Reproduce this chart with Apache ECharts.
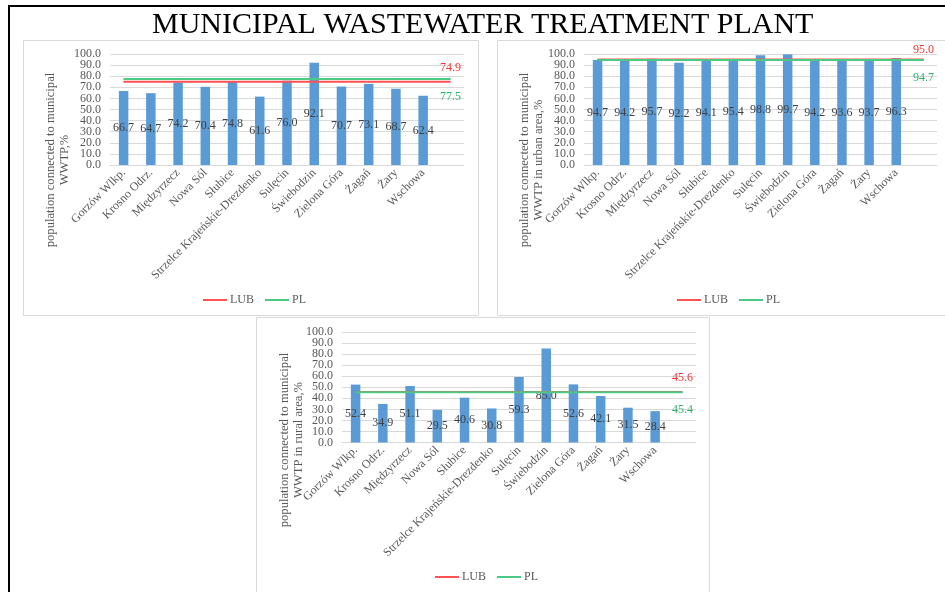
<!DOCTYPE html>
<html>
<head>
<meta charset="utf-8">
<script src="https://cdn.jsdelivr.net/npm/echarts@6/dist/echarts.min.js"></script>
<style>
  html, body { margin: 0; padding: 0; background: #fff; }
  #chart { width: 945px; height: 592px; }
</style>
</head>
<body>
<div id="chart"></div>
<script>
// towns (last slot empty, Excel-style, so the reference lines run past the last bar)
const towns = ['Gorzów Wlkp.', 'Krosno Odrz.', 'Międzyrzecz', 'Nowa Sól', 'Słubice',
  'Strzelce Krajeńskie-Drezdenko', 'Sulęcin', 'Świebodzin', 'Zielona Góra', 'Żagań', 'Żary', 'Wschowa', ''];

const totalVals = [66.7, 64.7, 74.2, 70.4, 74.8, 61.6, 76.0, 92.1, 70.7, 73.1, 68.7, 62.4];
const urbanVals = [94.7, 94.2, 95.7, 92.2, 94.1, 95.4, 98.8, 99.7, 94.2, 93.6, 93.7, 96.3];
const ruralVals = [52.4, 34.9, 51.1, 29.5, 40.6, 30.8, 59.3, 85.0, 52.6, 42.1, 31.5, 28.4];

// regional (LUB) and national (PL) averages
const lubVals = [74.9, 95.0, 45.6];
const plVals = [77.5, 94.7, 45.4];

const yTicks = [0, 100, 10]; // min, max, step
const yNames = [
  'population connected to municipal\nWWTP,%',
  'population connected to municipal\nWWTP in urban area,%',
  'population connected to municipal\nWWTP in rural area,%'
];

const serif = '"Liberation Serif", "Times New Roman", serif';
const red = '#ff5252';
const green = '#4cc982';
const grey = '#595959';

const chart = echarts.init(document.getElementById('chart'));

const grids = [
  { left: 110, top: 54, width: 354, height: 111 },
  { left: 584, top: 54, width: 353, height: 111 },
  { left: 342, top: 332, width: 354, height: 110.5 }
];
const legendPos = [
  { left: 203, top: 294 },
  { left: 677, top: 294 },
  { left: 435, top: 571 }
];
const yNamePos = [[58, 160], [532, 160], [292, 440]];
const barSets = [totalVals, urbanVals, ruralVals];

// line across all categories at the average, with its value shown at the end
function avgLine(v, pos, dist) {
  return towns.map((t, i) => i === towns.length - 1
    ? { value: v, label: { show: true, position: pos, distance: dist } }
    : v);
}

const isEnd = v => v === yTicks[0] || v === yTicks[1];
const yLabel = { margin: 9, fontFamily: serif, fontSize: 12, color: grey, hideOverlap: false };

const xAxis = [], yAxis = [], series = [], legend = [], graphic = [];
grids.forEach((g, k) => {
  xAxis.push({
    type: 'category', gridIndex: k, data: towns,
    axisTick: { show: false },
    axisLine: { lineStyle: { color: '#d9d9d9' } },
    axisLabel: { rotate: 45, interval: 0, margin: 6, fontFamily: serif, fontSize: 12, color: grey }
  });
  // inner tick labels; echarts drops the neighbours of min/max when ticks are this dense,
  // so the two end labels go on a twin axis below
  yAxis.push({
    type: 'value', gridIndex: k, position: 'left',
    min: yTicks[0], max: yTicks[1], interval: yTicks[2],
    axisLine: { show: false }, axisTick: { show: false },
    splitLine: { lineStyle: { color: '#d9d9d9' } },
    axisLabel: Object.assign({}, yLabel, { showMinLabel: false, showMaxLabel: false,
      formatter: v => isEnd(v) ? '' : v.toFixed(1) })
  });
  yAxis.push({
    type: 'value', gridIndex: k, position: 'left', offset: 0,
    min: yTicks[0], max: yTicks[1], interval: yTicks[2],
    axisLine: { show: false }, axisTick: { show: false }, splitLine: { show: false },
    axisLabel: Object.assign({}, yLabel, { showMinLabel: true, showMaxLabel: true,
      formatter: v => isEnd(v) ? v.toFixed(1) : '' })
  });
  const yi = 2 * k;
  series.push({
    type: 'bar', xAxisIndex: k, yAxisIndex: yi, data: barSets[k], barWidth: 9.5,
    itemStyle: { color: '#5b9bd5' },
    label: { show: true, position: 'inside', fontFamily: serif, fontSize: 12, color: '#404040',
      formatter: p => p.value.toFixed(1) }
  });
  series.push({
    name: 'LUB', type: 'line', xAxisIndex: k, yAxisIndex: yi,
    data: avgLine(lubVals[k], 'top', k === 1 ? 3 : 8),
    symbol: 'circle', symbolSize: 1, showSymbol: true,
    lineStyle: { color: red, width: 2 }, itemStyle: { color: red },
    label: { fontFamily: serif, fontSize: 12, color: '#ff3030', formatter: p => p.value.toFixed(1) }
  });
  series.push({
    name: 'PL', type: 'line', xAxisIndex: k, yAxisIndex: yi,
    data: avgLine(plVals[k], 'bottom', 11),
    symbol: 'circle', symbolSize: 1, showSymbol: true,
    lineStyle: { color: green, width: 2 }, itemStyle: { color: green },
    label: { fontFamily: serif, fontSize: 12, color: '#2fb36a', formatter: p => p.value.toFixed(1) }
  });
  legend.push({
    data: ['LUB', 'PL'], left: legendPos[k].left, top: legendPos[k].top, padding: 0,
    icon: 'rect', itemWidth: 24, itemHeight: 2, itemGap: 11,
    textStyle: { fontFamily: serif, fontSize: 12, color: grey, padding: [0, 0, 0, -2] }
  });
  // y axis title, centred on the whole panel like in the source
  graphic.push({
    type: 'text', x: yNamePos[k][0], y: yNamePos[k][1], rotation: Math.PI / 2,
    style: { text: yNames[k], align: 'center', verticalAlign: 'middle',
      font: '12.6px ' + serif, fill: grey, lineHeight: 14 }
  });
});

graphic.push(
  { type: 'rect', shape: { x: 9, y: 6, width: 1000, height: 700 },
    style: { fill: 'none', stroke: '#000', lineWidth: 2 } },
  { type: 'rect', shape: { x: 23.5, y: 40.5, width: 455, height: 275 },
    style: { fill: 'none', stroke: '#d9d9d9', lineWidth: 1 } },
  { type: 'rect', shape: { x: 497.5, y: 40.5, width: 460, height: 275 },
    style: { fill: 'none', stroke: '#d9d9d9', lineWidth: 1 } },
  { type: 'rect', shape: { x: 256.5, y: 317.5, width: 453, height: 300 },
    style: { fill: 'none', stroke: '#d9d9d9', lineWidth: 1 } }
);

const option = {
  animation: false,
  title: {
    text: 'MUNICIPAL WASTEWATER TREATMENT PLANT', left: 152, top: 10, padding: 0,
    textStyle: { fontFamily: serif, fontSize: 30, fontWeight: 'normal', color: '#000' }
  },
  legend: legend,
  grid: grids,
  xAxis: xAxis,
  yAxis: yAxis,
  series: series,
  graphic: graphic
};
chart.setOption(option);
</script>
</body>
</html>
